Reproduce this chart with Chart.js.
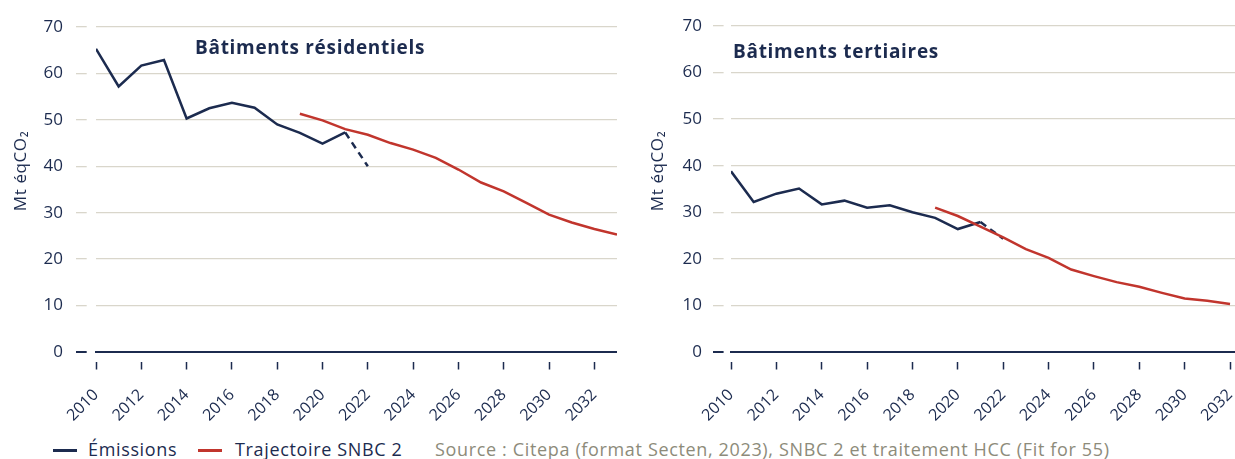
<!DOCTYPE html>
<html>
<head>
<meta charset="utf-8">
<script src="https://cdn.jsdelivr.net/npm/chart.js@4/dist/chart.umd.min.js"></script>
<style>
body { margin: 0; width: 1235px; height: 459px; background: #fff; position: relative; overflow: hidden; font-family: "Open Sans", sans-serif; }
.box { position: absolute; top: 0; height: 430px; }
.title { position: absolute; font-weight: bold; font-size: 19px; letter-spacing: 0.7px; line-height: 19px; color: #1c2b4f; white-space: nowrap; }
.ytitle { position: absolute; top: 162px; width: 100px; height: 18px; margin-left: -50px; text-align: center; font-size: 17px; font-weight: normal; letter-spacing: 0.6px; line-height: 18px; color: #1c2b4f; transform: rotate(-90deg); white-space: nowrap; }
#legend { position: absolute; left: 0; top: 440px; height: 19px; width: 1235px; font-size: 18px; letter-spacing: 0.65px; line-height: 19px; color: #1c2b4f; white-space: nowrap; }
#legend span { position: absolute; top: 0; }
#legend i { position: absolute; top: 9px; height: 2.5px; width: 24px; }
</style>
</head>
<body>
<div class="box" style="left:0;width:617px"><canvas id="left"></canvas></div>
<div class="box" style="left:630px;width:605px"><canvas id="right"></canvas></div>
<div class="title" style="left:195px;top:38px">Bâtiments résidentiels</div>
<div class="title" style="left:733px;top:42px">Bâtiments tertiaires</div>
<div class="ytitle" style="left:20px">Mt éqCO₂</div>
<div class="ytitle" style="left:657px">Mt éqCO₂</div>
<div id="legend">
  <i style="left:53px;background:#1c2b4f"></i><span style="left:88px">Émissions</span>
  <i style="left:198px;background:#c1352d"></i><span style="left:235px">Trajectoire SNBC 2</span>
  <span style="left:435px;color:#8d8b7a">Source : Citepa (format Secten, 2023), SNBC 2 et traitement HCC (Fit for 55)</span>
</div>
<script>
// valeurs (Mt éqCO2)
var emission_years = [2010, 2011, 2012, 2013, 2014, 2015, 2016, 2017, 2018, 2019, 2020, 2021, 2022];
var snbc_years = [2019, 2020, 2021, 2022, 2023, 2024, 2025, 2026, 2027, 2028, 2029, 2030, 2031, 2032, 2033];

var res_emissions = [65.3, 57.2, 61.7, 62.9, 50.3, 52.5, 53.7, 52.6, 49.0, 47.2, 44.9, 47.3, 40.0];
var res_snbc = [51.3, 49.9, 48.0, 46.8, 45.0, 43.6, 41.8, 39.3, 36.5, 34.6, 32.1, 29.6, 27.9, 26.5, 25.3];

var ter_emissions = [38.8, 32.2, 34.0, 35.1, 31.7, 32.5, 31.0, 31.5, 30.0, 28.8, 26.4, 27.9, 24.3];
var ter_snbc = [31.0, 29.2, 26.9, 24.6, 22.1, 20.2, 17.7, 16.3, 15.0, 14.0, 12.7, 11.5, 11.0, 10.3];

var x_ticks = [2010, 2012, 2014, 2016, 2018, 2020, 2022, 2024, 2026, 2028, 2030, 2032];
var y_ticks = [0, 10, 20, 30, 40, 50, 60, 70];

var navy = "#1c2b4f";
var red = "#c1352d";
var grid_color = "#d9d6cb";

function To_Points( xs, ys ) {
    var points = [];
    for ( var i=0; i<ys.length; i++ ) {
        points.push({ x: xs[i], y: ys[i] });
    }
    return points;
}

function Make_Chart( canvas_id, emissions, snbc, cfg ) {
    var last = emissions.length - 1;
    var config = {
        type: 'line',
        data: {
            datasets: [
                {
                    label: "Trajectoire SNBC 2",
                    data: To_Points(snbc_years, snbc),
                    borderColor: red,
                    borderWidth: 2.5,
                    pointRadius: 0,
                    tension: 0,
                },
                {
                    label: "Émissions",
                    data: To_Points(emission_years, emissions),
                    borderColor: navy,
                    borderWidth: 2.5,
                    pointRadius: 0,
                    tension: 0,
                    segment: {
                        borderDash: function(ctx) { return ctx.p1DataIndex == last ? [7, 5] : undefined; },
                    },
                },
            ],
        },
        options: {
            responsive: true,
            maintainAspectRatio: false,
            animation: false,
            devicePixelRatio: 1,
            layout: { padding: { top: cfg.top, left: 0, right: 0, bottom: 0 } },
            plugins: { legend: { display: false }, tooltip: { enabled: false } },
            scales: {
                x: {
                    type: 'linear',
                    min: 2010,
                    max: cfg.xmax,
                    afterBuildTicks: function(s) { s.ticks = x_ticks.map(function(v) { return { value: v }; }); },
                    afterFit: function(s) { s.height = 78; s.paddingLeft = 0; s.paddingRight = 0; },
                    ticks: {
                        autoSkip: false,
                        minRotation: 45,
                        maxRotation: 45,
                        padding: 16,
                        color: navy,
                        font: { family: 'Open Sans', size: 16 },
                        callback: function(v) { return String(v); },
                    },
                    grid: {
                        drawOnChartArea: false,
                        drawTicks: true,
                        tickLength: 17.5,
                        tickColor: navy,
                        tickWidth: 1.5,
                        tickBorderDash: [0, 9, 8.5, 100],
                    },
                    border: { display: true, color: navy, width: 2 },
                },
                y: {
                    min: 0,
                    max: 70,
                    afterBuildTicks: function(s) { s.ticks = y_ticks.map(function(v) { return { value: v }; }); },
                    afterFit: function(s) { s.width = cfg.axis_width; },
                    ticks: {
                        padding: cfg.label_pad,
                        color: navy,
                        font: { family: 'Open Sans', size: 17 },
                    },
                    grid: {
                        color: function(ctx) { return ctx.tick && ctx.tick.value == 0 ? navy : grid_color; },
                        lineWidth: function(ctx) { return ctx.tick && ctx.tick.value == 0 ? 2 : 1.3; },
                        tickColor: function(ctx) { return ctx.tick && ctx.tick.value == 0 ? navy : grid_color; },
                        tickLength: cfg.tick_len,
                        tickBorderDash: [cfg.tick_dash, 100],
                    },
                    border: { display: false },
                },
            },
        },
    };
    return new Chart(document.getElementById(canvas_id).getContext('2d'), config);
}

Make_Chart("left", res_emissions, res_snbc,
    { xmax: 2033, top: 27, axis_width: 96, label_pad: 13, tick_len: 20, tick_dash: 10.7 });
Make_Chart("right", ter_emissions, ter_snbc,
    { xmax: 2032.22, top: 26, axis_width: 101, label_pad: 11, tick_len: 18, tick_dash: 10.6 });
</script>
</body>
</html>
